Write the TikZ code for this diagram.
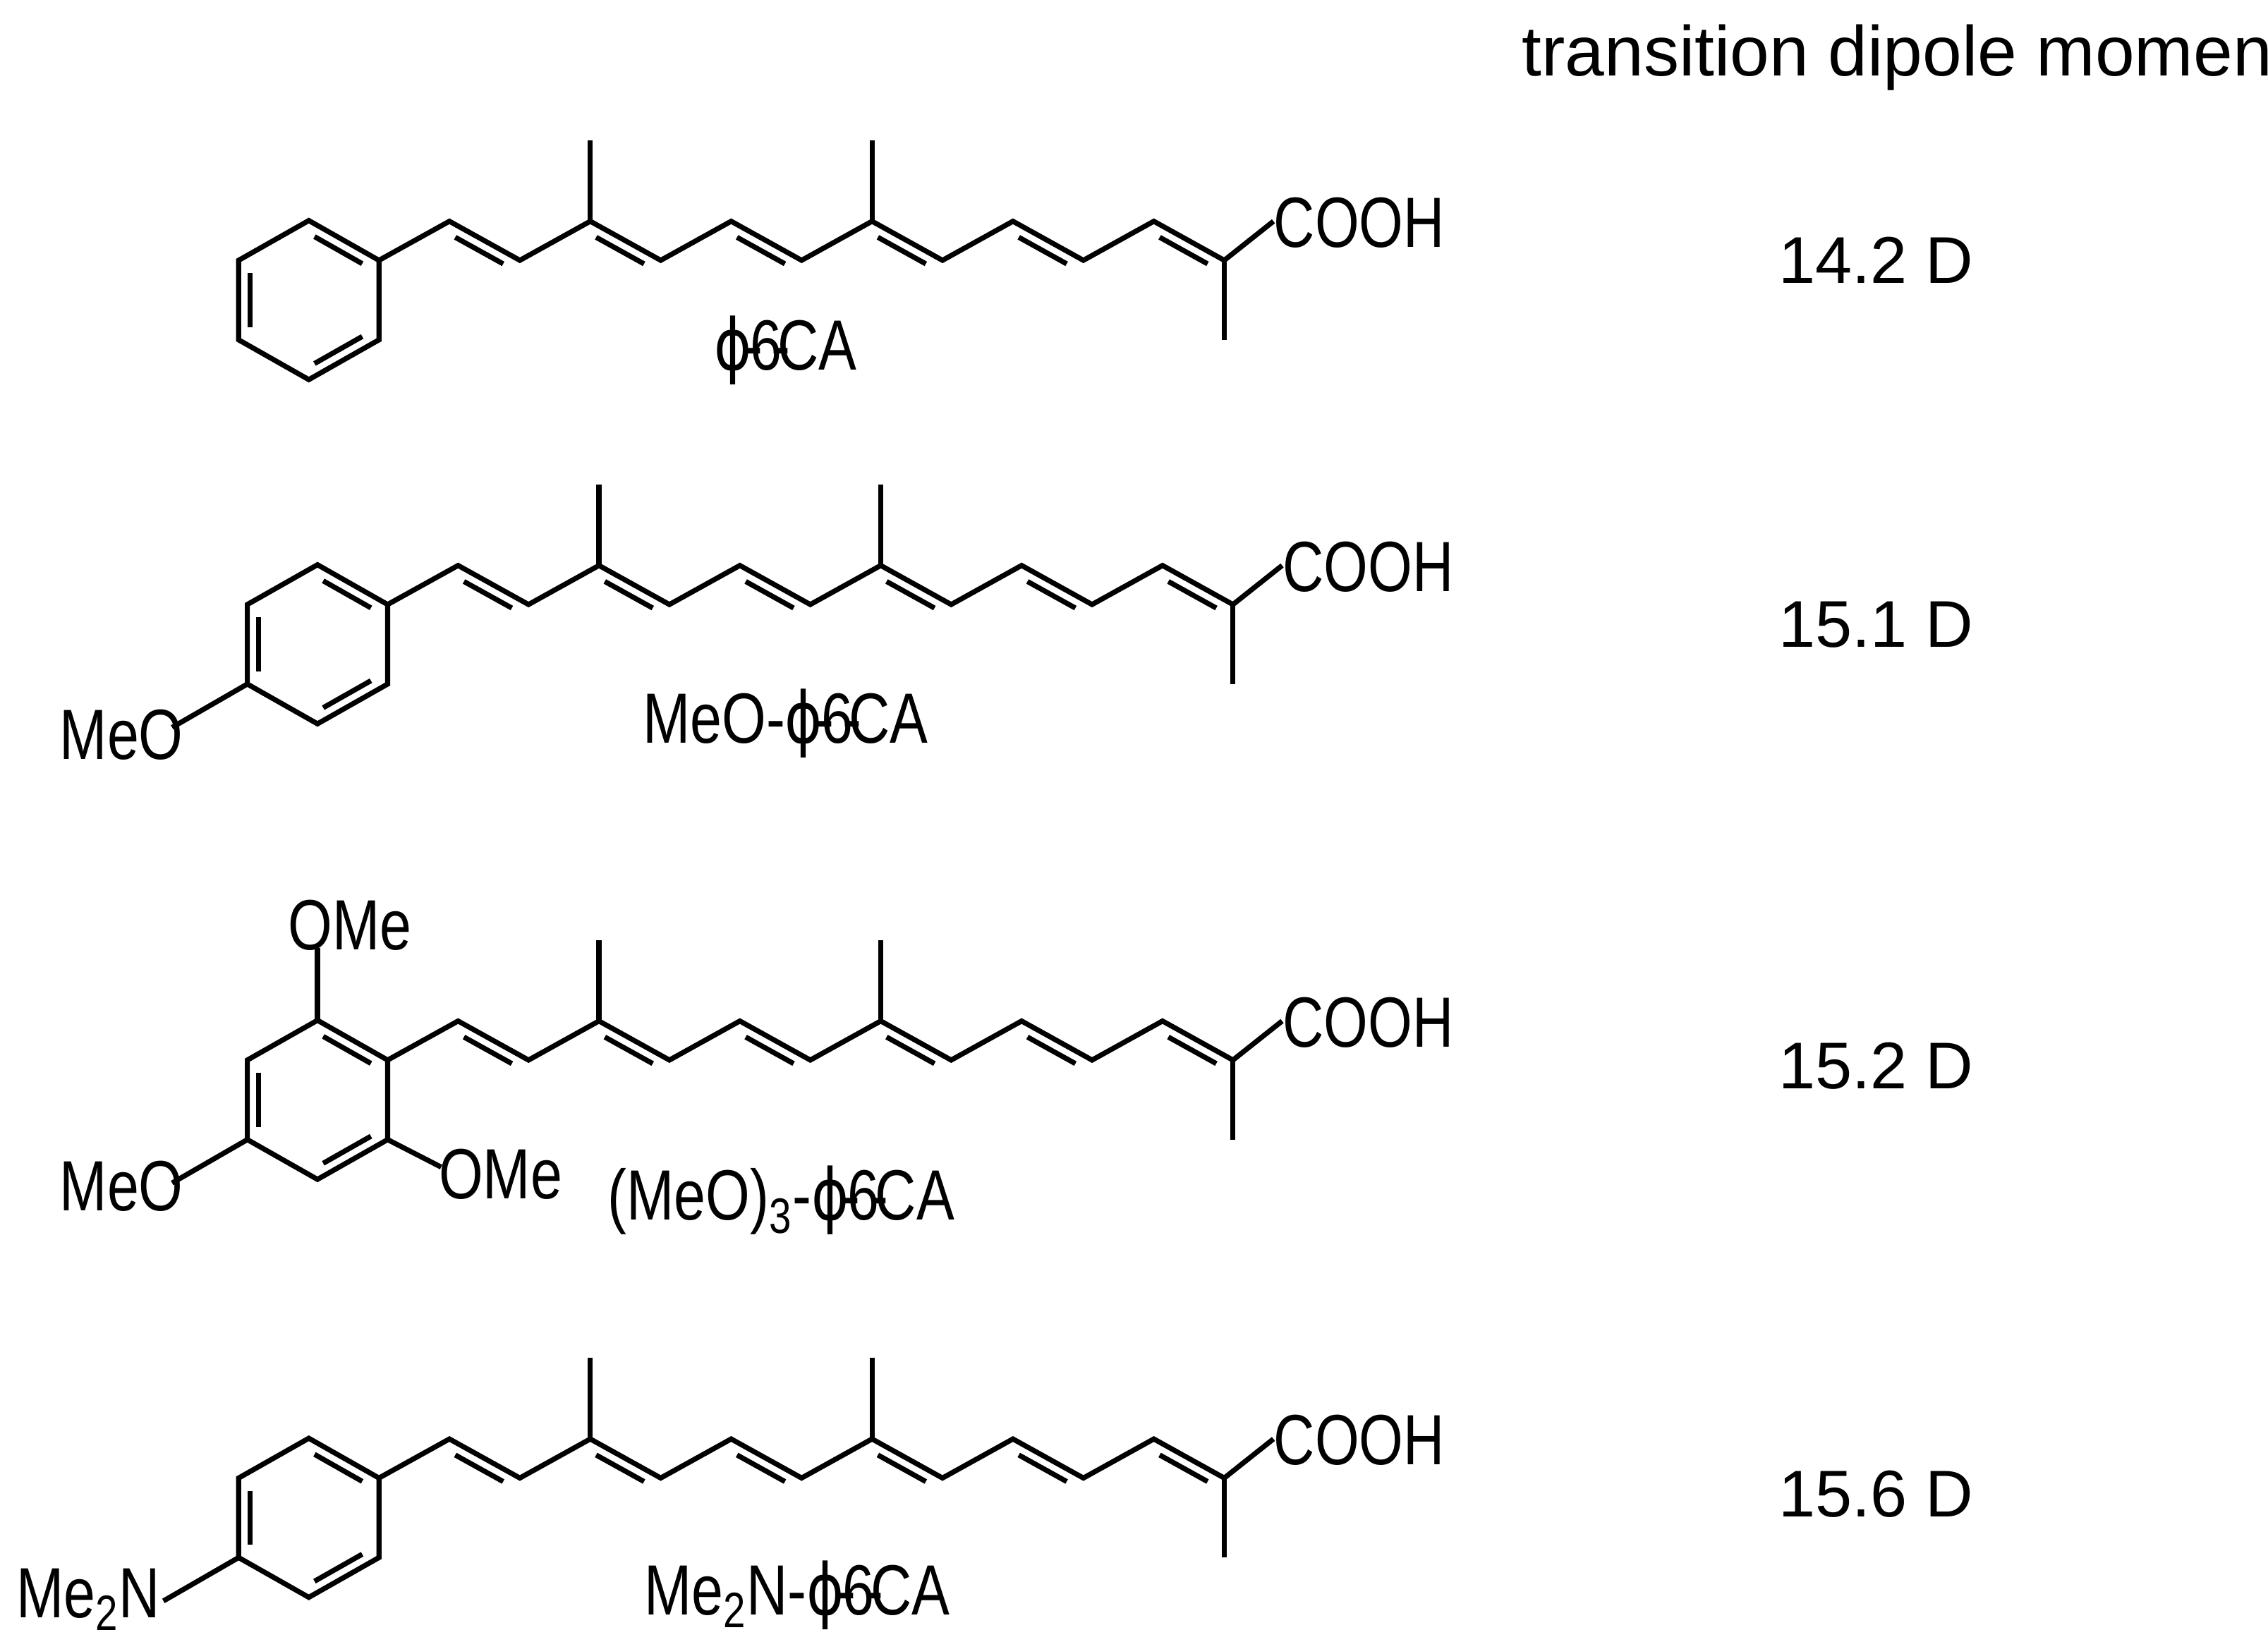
\documentclass[tikz,border=0pt]{standalone}
\usepackage{fontspec}
\setmainfont{Liberation Sans}
\newfontfamily\narrowf[FakeStretch=0.8]{Liberation Sans}
\newfontfamily\dvf[FakeStretch=0.8]{DejaVu Sans}
\usetikzlibrary{calc}
\tikzset{bond/.style={line width=2pt,line cap=butt,line join=miter},
 lbl/.style={font=\narrowf\fontsize{28}{32}\selectfont,inner sep=0pt},
 val/.style={font=\fontsize{26}{30}\selectfont,inner sep=0pt}}
\newcommand\dbl[4]{\draw[bond] ($($(#1)!.16!(#2)$)!4.4pt!#3:(#2)$) -- ($($(#1)!.84!(#2)$)!4.4pt!#4:(#1)$);}
\newcommand\skel{%
 \coordinate (c0) at (0,0);\coordinate (c1) at (48.7,-27);\coordinate (c2) at (97.4,0);
 \coordinate (c3) at (146.1,-27);\coordinate (c4) at (194.8,0);\coordinate (c5) at (243.5,-27);
 \coordinate (c6) at (292.2,0);\coordinate (c7) at (340.9,-27);\coordinate (c8) at (389.6,0);
 \coordinate (c9) at (438.3,-27);\coordinate (c10) at (487,0);\coordinate (c11) at (535.7,-27);
 \coordinate (c12) at (584.4,0);
 \coordinate (rt) at (-48.5,-27.5);\coordinate (rul) at (-97,0);\coordinate (rll) at (-97,55);
 \coordinate (rb) at (-48.5,82.5);\coordinate (rlr) at (0,55);
 \draw[bond] (c0)--(rt)--(rul)--(rll)--(rb)--(rlr)--cycle;
 \draw[bond] (c0)--(c1)--(c2)--(c3)--(c4)--(c5)--(c6)--(c7)--(c8)--(c9)--(c10)--(c11)--(c12);
 \draw[bond] (c3)--++(0,-56); \draw[bond] (c7)--++(0,-56);
 \draw[bond] (c12)--++(0,55); \draw[bond] (c12)--++(34,-27) coordinate (cx);
 \node[lbl,anchor=west] at ($(cx)+(0,1)$) {COOH};
 \dbl{c0}{rt}{90}{-90}\dbl{rul}{rll}{90}{-90}\dbl{rb}{rlr}{90}{-90}
 \dbl{c1}{c2}{-90}{90}\dbl{c3}{c4}{-90}{90}\dbl{c5}{c6}{-90}{90}
 \dbl{c7}{c8}{-90}{90}\dbl{c9}{c10}{-90}{90}\dbl{c11}{c12}{-90}{90}}
\newcommand\phic{{\dvf ϕ}\kern-3pt-\kern-5pt6\kern-4pt-\kern-5ptCA}
\begin{document}
\begin{tikzpicture}[x=0.02cm,y=-0.02cm]
\useasboundingbox (0,0) rectangle (1568,1135);
\clip (0,0) rectangle (1568,1135);
\node[val,font=\fontsize{27.8}{32}\selectfont,anchor=west] (title) at (1052,40) {transition dipole moment};
% molecule 1
\begin{scope}[shift={(262,180)}]\skel\end{scope}
\node[lbl] (l1) at (543,242) {\phic};
\node[val] (v1) at (1297,180) {14.2 D};
% molecule 2
\begin{scope}[shift={(268,418)}]\skel
 \draw[bond] (rll)--++(-52,30) coordinate (m2);
\end{scope}
\node[lbl] (s2) at (84,508) {MeO};
\node[lbl] (l2) at (543,500) {MeO-\phic};
\node[val] (v2) at (1297,432) {15.1 D};
% molecule 3
\begin{scope}[shift={(268,733)}]\skel
 \draw[bond] (rt)--++(0,-50);
 \draw[bond] (rlr)--++(37,19);
 \draw[bond] (rll)--++(-52,30);
\end{scope}
\node[lbl] (s3a) at (242,640) {OMe};
\node[lbl] (s3b) at (346,812) {OMe};
\node[lbl] (s3c) at (84,820) {MeO};
\node[lbl] (l3) at (540,830) {(MeO)\textsubscript{3}-\phic};
\node[val] (v3) at (1297,737) {15.2 D};
% molecule 4
\begin{scope}[shift={(262,1022)}]\skel
 \draw[bond] (rll)--++(-52,30);
\end{scope}
\node[lbl] (s4) at (61,1106) {Me\textsubscript{2}N};
\node[lbl] (l4) at (551,1103) {Me\textsubscript{2}N-\phic};
\node[val] (v4) at (1297,1033) {15.6 D};
\end{tikzpicture}
\end{document}
